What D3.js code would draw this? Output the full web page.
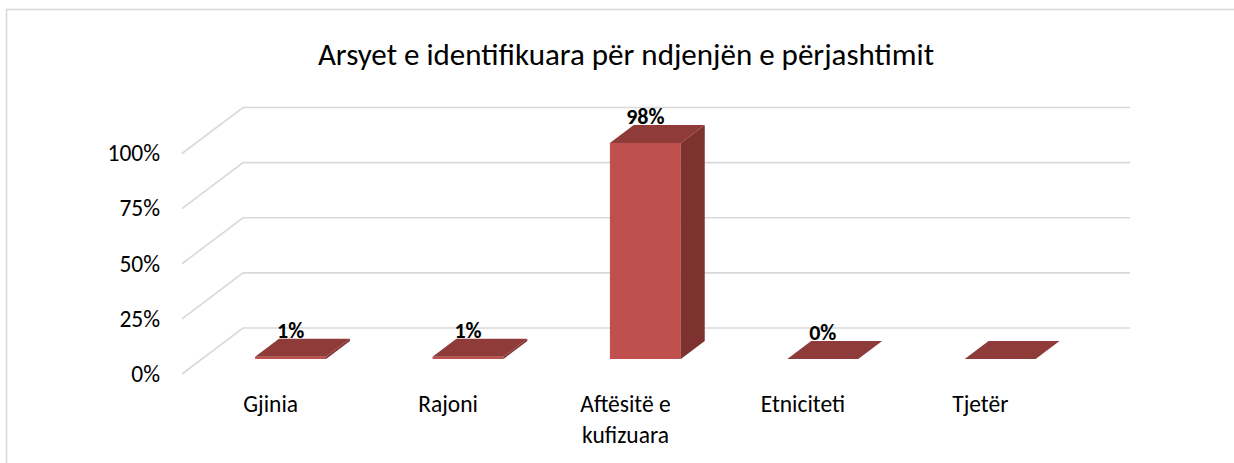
<!DOCTYPE html>
<meta charset="utf-8">
<script src="https://d3js.org/d3.v7.min.js"></script>
<style>
  body { margin: 0; background: #fff; }
  text { font-family: Calibri, Carlito, Lato, sans-serif; fill: #000; }
  .grid { fill: none; stroke: #d9d9d9; stroke-width: 1.6px; }
  .tick-label, .cat-label { font-size: 23.5px; }
  .value-label { font-size: 22px; font-weight: bold; }
  .title { font-size: 31px; }
</style>
<div id="plot"></div>
<script>
// data
var categories = ["Gjinia", "Rajoni", "Aftësitë e kufizuara", "Etniciteti", "Tjetër"];
var values = [0.01, 0.01, 0.98, 0.00, 0.00];
var valueLabels = ["1%", "1%", "98%", "0%", ""];
var yTicks = [0, 0.25, 0.5, 0.75, 1];
var yTickLabels = ["0%", "25%", "50%", "75%", "100%"];
var title = "Arsyet e identifikuara për ndjenjën e përjashtimit";

var W = 1234, H = 463;

// 3d projection: depth d moves a point right/up
var slant = 61 / 46,
    wallDepth = 46,
    barFront = 15,
    barBack = 33;

var x = d3.scaleBand()
    .domain(categories)
    .range([182, 1069])
    .paddingInner(0.6)
    .paddingOuter(0.3);

var y = d3.scaleLinear()
    .domain([0, 1])
    .range([374, 153.5]);

function proj(px, v, d) {
  return [px + d * slant, y(v) - d];
}

var svg = d3.select("#plot").append("svg")
    .attr("width", W)
    .attr("height", H);

// chart border
svg.append("rect")
    .attr("x", 6.5).attr("y", 9.5)
    .attr("width", W + 10).attr("height", H + 10)
    .attr("fill", "none")
    .attr("stroke", "#d9d9d9")
    .attr("stroke-width", 1.6);

svg.append("text")
    .attr("class", "title")
    .attr("x", 626)
    .attr("y", 65)
    .attr("text-anchor", "middle")
    .text(title);

// gridlines: side wall diagonal + back wall
var line = d3.line();
var x0 = x.range()[0], x1 = x.range()[1];
svg.selectAll(".grid")
  .data(yTicks)
  .enter().append("path")
    .attr("class", "grid")
    .attr("d", function(t) {
      return line([proj(x0, t, 0), proj(x0, t, wallDepth), proj(x1, t, wallDepth)]);
    });

svg.selectAll(".tick-label")
  .data(yTicks)
  .enter().append("text")
    .attr("class", "tick-label")
    .attr("x", 160)
    .attr("y", function(t) { return y(t); })
    .attr("dy", "0.33em")
    .attr("text-anchor", "end")
    .text(function(t, i) { return yTickLabels[i]; });

// bars
var bars = svg.selectAll(".bar")
  .data(categories)
  .enter().append("g")
    .attr("class", "bar");

bars.append("path")
    .attr("fill", "#c0504d")
    .attr("d", function(c, i) {
      var a = x(c), b = a + x.bandwidth(), v = values[i];
      return line([proj(a, 0, barFront), proj(b, 0, barFront), proj(b, v, barFront), proj(a, v, barFront)]) + "Z";
    });

bars.append("path")
    .attr("fill", "#7d3230")
    .attr("d", function(c, i) {
      var b = x(c) + x.bandwidth(), v = values[i];
      return line([proj(b, 0, barFront), proj(b, v, barFront), proj(b, v, barBack), proj(b, 0, barBack)]) + "Z";
    });

bars.append("path")
    .attr("fill", "#8e3b39")
    .attr("d", function(c, i) {
      var a = x(c), b = a + x.bandwidth(), v = values[i];
      return line([proj(a, v, barFront), proj(b, v, barFront), proj(b, v, barBack), proj(a, v, barBack)]) + "Z";
    });

bars.append("text")
    .attr("class", "value-label")
    .attr("text-anchor", "middle")
    .attr("x", function(c) { return proj(x(c) + x.bandwidth() / 2, 0, barFront)[0]; })
    .attr("y", function(c, i) { return proj(0, values[i], barBack)[1] - 1; })
    .text(function(c, i) { return valueLabels[i]; });

// category labels, wrapped
var cats = svg.selectAll(".cat-label")
  .data(categories)
  .enter().append("text")
    .attr("class", "cat-label")
    .attr("text-anchor", "middle")
    .attr("x", function(c) { return x(c) + x.bandwidth() / 2; })
    .attr("y", 412);

cats.each(function(c) {
  var el = d3.select(this), words = c.split(" "), cur = [];
  var tspan = el.append("tspan").attr("x", el.attr("x")).attr("dy", 0);
  words.forEach(function(w) {
    cur.push(w);
    tspan.text(cur.join(" "));
    if (tspan.node().getComputedTextLength() > x.step() * 0.85 && cur.length > 1) {
      cur.pop();
      tspan.text(cur.join(" "));
      cur = [w];
      tspan = el.append("tspan").attr("x", el.attr("x")).attr("dy", 31).text(w);
    }
  });
});
</script>
